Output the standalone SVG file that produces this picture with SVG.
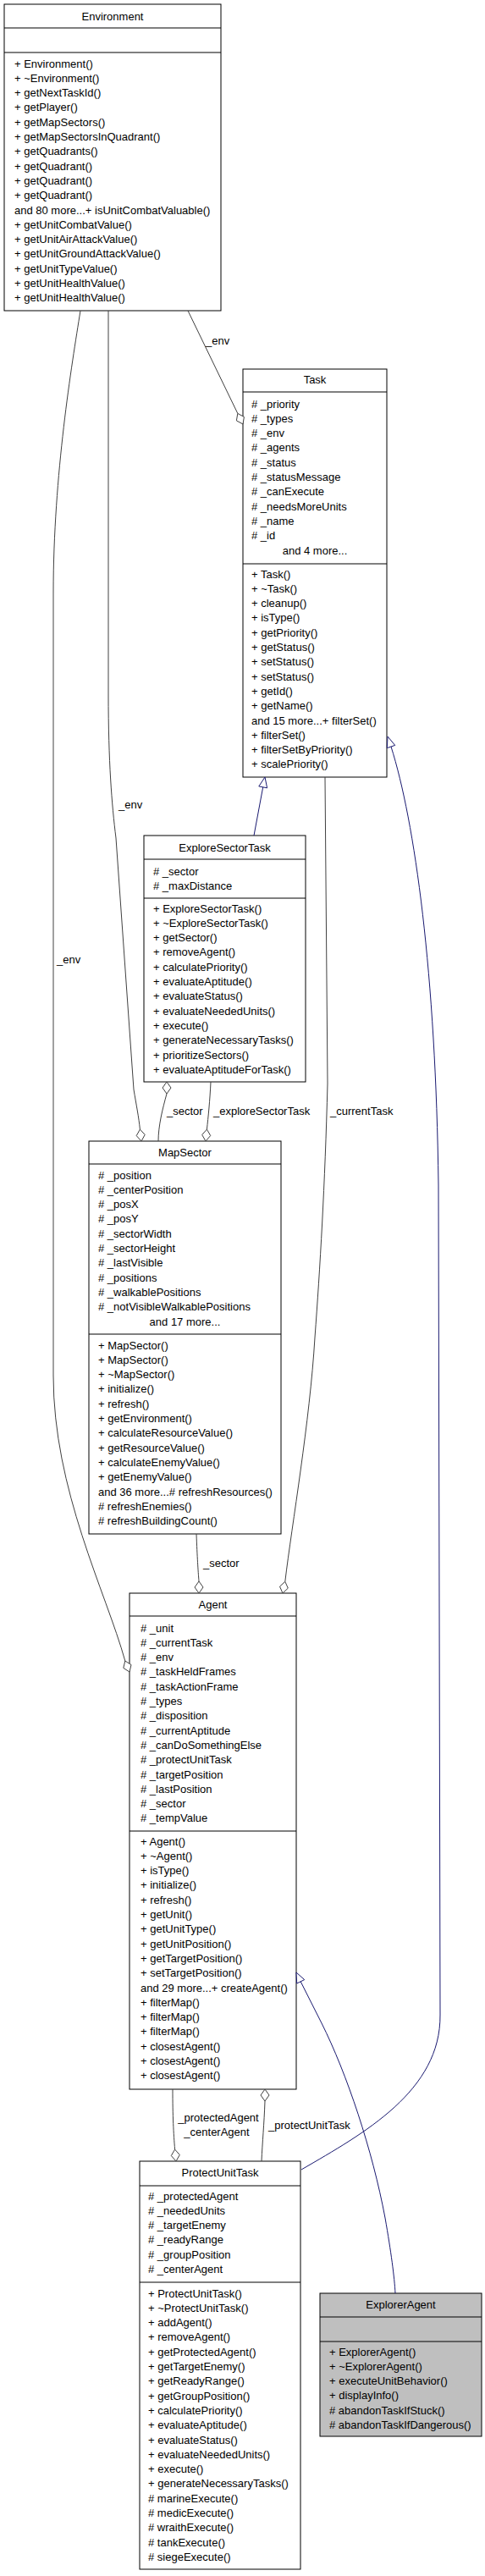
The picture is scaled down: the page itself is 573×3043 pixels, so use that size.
<svg xmlns="http://www.w3.org/2000/svg" width="573" height="3043" viewBox="0 0 573 3043">
<style>
.box{fill:#ffffff;stroke:#000000;stroke-width:1}
.gbox{fill:#bfbfbf;stroke:#000000;stroke-width:1}
.sep{stroke:#000000;stroke-width:1}
text{font-family:"Liberation Sans",Arial,Helvetica,sans-serif;font-size:13px;fill:#000000}
.mid{text-anchor:middle}
.edge{fill:none;stroke:#404040;stroke-width:1}
.dia{fill:#ffffff;stroke:#404040;stroke-width:1}
.inh{fill:none;stroke:#191970;stroke-width:1}
.tri{fill:#ffffff;stroke:#191970;stroke-width:1}
</style>
<rect width="573" height="3043" fill="#ffffff"/>
<g id="Environment">
<rect class="box" x="5" y="5" width="256" height="362"/>
<line class="sep" x1="5" y1="33" x2="261" y2="33"/>
<line class="sep" x1="5" y1="62" x2="261" y2="62"/>
<text class="mid" x="133" y="23.5">Environment</text>
<text x="17" y="79.5"><tspan x="17">+ Environment()</tspan><tspan x="17" dy="17.3">+ ~Environment()</tspan><tspan x="17" dy="17.3">+ getNextTaskId()</tspan><tspan x="17" dy="17.3">+ getPlayer()</tspan><tspan x="17" dy="17.3">+ getMapSectors()</tspan><tspan x="17" dy="17.3">+ getMapSectorsInQuadrant()</tspan><tspan x="17" dy="17.3">+ getQuadrants()</tspan><tspan x="17" dy="17.3">+ getQuadrant()</tspan><tspan x="17" dy="17.3">+ getQuadrant()</tspan><tspan x="17" dy="17.3">+ getQuadrant()</tspan><tspan x="17" dy="17.3">and 80 more...+ isUnitCombatValuable()</tspan><tspan x="17" dy="17.3">+ getUnitCombatValue()</tspan><tspan x="17" dy="17.3">+ getUnitAirAttackValue()</tspan><tspan x="17" dy="17.3">+ getUnitGroundAttackValue()</tspan><tspan x="17" dy="17.3">+ getUnitTypeValue()</tspan><tspan x="17" dy="17.3">+ getUnitHealthValue()</tspan><tspan x="17" dy="17.3">+ getUnitHealthValue()</tspan></text>
</g>
<g id="Task">
<rect class="box" x="287" y="436" width="170" height="482"/>
<line class="sep" x1="287" y1="463" x2="457" y2="463"/>
<line class="sep" x1="287" y1="666" x2="457" y2="666"/>
<text class="mid" x="372" y="452.5">Task</text>
<text x="297" y="481.5"><tspan x="297"># _priority</tspan><tspan x="297" dy="17.3"># _types</tspan><tspan x="297" dy="17.3"># _env</tspan><tspan x="297" dy="17.3"># _agents</tspan><tspan x="297" dy="17.3"># _status</tspan><tspan x="297" dy="17.3"># _statusMessage</tspan><tspan x="297" dy="17.3"># _canExecute</tspan><tspan x="297" dy="17.3"># _needsMoreUnits</tspan><tspan x="297" dy="17.3"># _name</tspan><tspan x="297" dy="17.3"># _id</tspan></text>
<text class="mid" x="372" y="654.5">and 4 more...</text>
<text x="297" y="682.5"><tspan x="297">+ Task()</tspan><tspan x="297" dy="17.3">+ ~Task()</tspan><tspan x="297" dy="17.3">+ cleanup()</tspan><tspan x="297" dy="17.3">+ isType()</tspan><tspan x="297" dy="17.3">+ getPriority()</tspan><tspan x="297" dy="17.3">+ getStatus()</tspan><tspan x="297" dy="17.3">+ setStatus()</tspan><tspan x="297" dy="17.3">+ setStatus()</tspan><tspan x="297" dy="17.3">+ getId()</tspan><tspan x="297" dy="17.3">+ getName()</tspan><tspan x="297" dy="17.3">and 15 more...+ filterSet()</tspan><tspan x="297" dy="17.3">+ filterSet()</tspan><tspan x="297" dy="17.3">+ filterSetByPriority()</tspan><tspan x="297" dy="17.3">+ scalePriority()</tspan></text>
</g>
<g id="ExploreSectorTask">
<rect class="box" x="170" y="987" width="191" height="291"/>
<line class="sep" x1="170" y1="1015" x2="361" y2="1015"/>
<line class="sep" x1="170" y1="1061" x2="361" y2="1061"/>
<text class="mid" x="265.5" y="1005.5">ExploreSectorTask</text>
<text x="181" y="1033.5"><tspan x="181"># _sector</tspan><tspan x="181" dy="17.3"># _maxDistance</tspan></text>
<text x="181" y="1077.5"><tspan x="181">+ ExploreSectorTask()</tspan><tspan x="181" dy="17.3">+ ~ExploreSectorTask()</tspan><tspan x="181" dy="17.3">+ getSector()</tspan><tspan x="181" dy="17.3">+ removeAgent()</tspan><tspan x="181" dy="17.3">+ calculatePriority()</tspan><tspan x="181" dy="17.3">+ evaluateAptitude()</tspan><tspan x="181" dy="17.3">+ evaluateStatus()</tspan><tspan x="181" dy="17.3">+ evaluateNeededUnits()</tspan><tspan x="181" dy="17.3">+ execute()</tspan><tspan x="181" dy="17.3">+ generateNecessaryTasks()</tspan><tspan x="181" dy="17.3">+ prioritizeSectors()</tspan><tspan x="181" dy="17.3">+ evaluateAptitudeForTask()</tspan></text>
</g>
<g id="MapSector">
<rect class="box" x="105" y="1348" width="227" height="464"/>
<line class="sep" x1="105" y1="1375" x2="332" y2="1375"/>
<line class="sep" x1="105" y1="1576" x2="332" y2="1576"/>
<text class="mid" x="218.5" y="1365.5">MapSector</text>
<text x="116" y="1392.5"><tspan x="116"># _position</tspan><tspan x="116" dy="17.3"># _centerPosition</tspan><tspan x="116" dy="17.3"># _posX</tspan><tspan x="116" dy="17.3"># _posY</tspan><tspan x="116" dy="17.3"># _sectorWidth</tspan><tspan x="116" dy="17.3"># _sectorHeight</tspan><tspan x="116" dy="17.3"># _lastVisible</tspan><tspan x="116" dy="17.3"># _positions</tspan><tspan x="116" dy="17.3"># _walkablePositions</tspan><tspan x="116" dy="17.3"># _notVisibleWalkablePositions</tspan></text>
<text class="mid" x="218.5" y="1565.5">and 17 more...</text>
<text x="116" y="1593.5"><tspan x="116">+ MapSector()</tspan><tspan x="116" dy="17.3">+ MapSector()</tspan><tspan x="116" dy="17.3">+ ~MapSector()</tspan><tspan x="116" dy="17.3">+ initialize()</tspan><tspan x="116" dy="17.3">+ refresh()</tspan><tspan x="116" dy="17.3">+ getEnvironment()</tspan><tspan x="116" dy="17.3">+ calculateResourceValue()</tspan><tspan x="116" dy="17.3">+ getResourceValue()</tspan><tspan x="116" dy="17.3">+ calculateEnemyValue()</tspan><tspan x="116" dy="17.3">+ getEnemyValue()</tspan><tspan x="116" dy="17.3">and 36 more...# refreshResources()</tspan><tspan x="116" dy="17.3"># refreshEnemies()</tspan><tspan x="116" dy="17.3"># refreshBuildingCount()</tspan></text>
</g>
<g id="Agent">
<rect class="box" x="153" y="1882" width="197" height="586"/>
<line class="sep" x1="153" y1="1909" x2="350" y2="1909"/>
<line class="sep" x1="153" y1="2163" x2="350" y2="2163"/>
<text class="mid" x="251.5" y="1899.5">Agent</text>
<text x="166" y="1927.5"><tspan x="166"># _unit</tspan><tspan x="166" dy="17.3"># _currentTask</tspan><tspan x="166" dy="17.3"># _env</tspan><tspan x="166" dy="17.3"># _taskHeldFrames</tspan><tspan x="166" dy="17.3"># _taskActionFrame</tspan><tspan x="166" dy="17.3"># _types</tspan><tspan x="166" dy="17.3"># _disposition</tspan><tspan x="166" dy="17.3"># _currentAptitude</tspan><tspan x="166" dy="17.3"># _canDoSomethingElse</tspan><tspan x="166" dy="17.3"># _protectUnitTask</tspan><tspan x="166" dy="17.3"># _targetPosition</tspan><tspan x="166" dy="17.3"># _lastPosition</tspan><tspan x="166" dy="17.3"># _sector</tspan><tspan x="166" dy="17.3"># _tempValue</tspan></text>
<text x="166" y="2179.5"><tspan x="166">+ Agent()</tspan><tspan x="166" dy="17.3">+ ~Agent()</tspan><tspan x="166" dy="17.3">+ isType()</tspan><tspan x="166" dy="17.3">+ initialize()</tspan><tspan x="166" dy="17.3">+ refresh()</tspan><tspan x="166" dy="17.3">+ getUnit()</tspan><tspan x="166" dy="17.3">+ getUnitType()</tspan><tspan x="166" dy="17.3">+ getUnitPosition()</tspan><tspan x="166" dy="17.3">+ getTargetPosition()</tspan><tspan x="166" dy="17.3">+ setTargetPosition()</tspan><tspan x="166" dy="17.3">and 29 more...+ createAgent()</tspan><tspan x="166" dy="17.3">+ filterMap()</tspan><tspan x="166" dy="17.3">+ filterMap()</tspan><tspan x="166" dy="17.3">+ filterMap()</tspan><tspan x="166" dy="17.3">+ closestAgent()</tspan><tspan x="166" dy="17.3">+ closestAgent()</tspan><tspan x="166" dy="17.3">+ closestAgent()</tspan></text>
</g>
<g id="ProtectUnitTask">
<rect class="box" x="165" y="2553" width="190" height="482"/>
<line class="sep" x1="165" y1="2582" x2="355" y2="2582"/>
<line class="sep" x1="165" y1="2696" x2="355" y2="2696"/>
<text class="mid" x="260" y="2570.5">ProtectUnitTask</text>
<text x="175" y="2598.5"><tspan x="175"># _protectedAgent</tspan><tspan x="175" dy="17.3"># _neededUnits</tspan><tspan x="175" dy="17.3"># _targetEnemy</tspan><tspan x="175" dy="17.3"># _readyRange</tspan><tspan x="175" dy="17.3"># _groupPosition</tspan><tspan x="175" dy="17.3"># _centerAgent</tspan></text>
<text x="175" y="2713.5"><tspan x="175">+ ProtectUnitTask()</tspan><tspan x="175" dy="17.3">+ ~ProtectUnitTask()</tspan><tspan x="175" dy="17.3">+ addAgent()</tspan><tspan x="175" dy="17.3">+ removeAgent()</tspan><tspan x="175" dy="17.3">+ getProtectedAgent()</tspan><tspan x="175" dy="17.3">+ getTargetEnemy()</tspan><tspan x="175" dy="17.3">+ getReadyRange()</tspan><tspan x="175" dy="17.3">+ getGroupPosition()</tspan><tspan x="175" dy="17.3">+ calculatePriority()</tspan><tspan x="175" dy="17.3">+ evaluateAptitude()</tspan><tspan x="175" dy="17.3">+ evaluateStatus()</tspan><tspan x="175" dy="17.3">+ evaluateNeededUnits()</tspan><tspan x="175" dy="17.3">+ execute()</tspan><tspan x="175" dy="17.3">+ generateNecessaryTasks()</tspan><tspan x="175" dy="17.3"># marineExecute()</tspan><tspan x="175" dy="17.3"># medicExecute()</tspan><tspan x="175" dy="17.3"># wraithExecute()</tspan><tspan x="175" dy="17.3"># tankExecute()</tspan><tspan x="175" dy="17.3"># siegeExecute()</tspan></text>
</g>
<g id="ExplorerAgent">
<rect class="gbox" x="378" y="2709" width="191" height="169"/>
<line class="sep" x1="378" y1="2737" x2="569" y2="2737"/>
<line class="sep" x1="378" y1="2766" x2="569" y2="2766"/>
<text class="mid" x="473.5" y="2726.5">ExplorerAgent</text>
<text x="389" y="2782.5"><tspan x="389">+ ExplorerAgent()</tspan><tspan x="389" dy="17.3">+ ~ExplorerAgent()</tspan><tspan x="389" dy="17.3">+ executeUnitBehavior()</tspan><tspan x="389" dy="17.3">+ displayInfo()</tspan><tspan x="389" dy="17.3"># abandonTaskIfStuck()</tspan><tspan x="389" dy="17.3"># abandonTaskIfDangerous()</tspan></text>
</g>
<g id="connectors">
<path class="edge" d="M222,367 L280.8,488.4"/>
<polygon class="dia" points="287,501 279.4,496.9 280.8,488.4 288.4,492.5"/>
<text x="243" y="406.5">_env</text>
<path class="edge" d="M128,367 L128,820 C128,900 132,950 137,990 L158,1287 C161,1305 164,1320 165.4,1334.1"/>
<polygon class="dia" points="167,1348 161.2,1341.6 165.4,1334.1 171.2,1340.4"/>
<text x="140" y="954.5">_env</text>
<path class="edge" d="M95,367 C85,430 63,560 63,700 L63,1625 C63,1760 125,1880 147.8,1962"/>
<polygon class="dia" points="153,1975 145.8,1970.4 147.8,1962 155,1966.6"/>
<text x="67" y="1137.5">_env</text>
<path class="edge" d="M384,918 L387,1280 C384,1400 378,1500 372,1580 C366,1680 345,1800 336.8,1868.3"/>
<polygon class="dia" points="334,1882 330.5,1874.1 336.8,1868.3 340.3,1876.1"/>
<text x="390" y="1316.5">_currentTask</text>
<path class="edge" d="M197,1292 C192,1310 187,1330 187,1348"/>
<polygon class="dia" points="197,1278 202,1285 197,1292 192,1285"/>
<text x="197" y="1316.5">_sector</text>
<path class="edge" d="M249,1278 C248,1300 246,1320 244.4,1334.1"/>
<polygon class="dia" points="243,1348 238.7,1340.5 244.4,1334.1 248.7,1341.5"/>
<text x="252" y="1316.5">_exploreSectorTask</text>
<path class="edge" d="M232,1812 C233,1840 234,1855 235,1868"/>
<polygon class="dia" points="235,1882 230,1875 235,1868 240,1875"/>
<text x="240" y="1850.5">_sector</text>
<path class="edge" d="M204,2468 C204,2500 205,2520 206.6,2539.1"/>
<polygon class="dia" points="208,2553 202.3,2546.5 206.6,2539.1 212.3,2545.5"/>
<text class="mid" x="258" y="2505.5">_protectedAgent</text>
<text class="mid" x="256" y="2522.5">_centerAgent</text>
<path class="edge" d="M313,2482 C312,2510 310,2530 309,2553"/>
<polygon class="dia" points="313,2468 318,2475 313,2482 308,2475"/>
<text x="317" y="2514.5">_protectUnitTask</text>
<path class="inh" d="M300,987 L310.7,929.8"/>
<polygon class="tri" points="313,918 315.6,930.8 305.8,928.9"/>
<path class="inh" d="M462,882 C490,970 515,1150 518,1400 L520,2380 C521,2470 430,2520 356,2563"/>
<polygon class="tri" points="458,870 466.7,880.4 457.3,883.6"/>
<path class="inh" d="M355.2,2340.8 L380,2390 C410,2450 440,2540 455,2620 C462,2660 466,2690 467,2709"/>
<polygon class="tri" points="350,2330 359.7,2338.6 350.7,2343"/>
</g>
</svg>
